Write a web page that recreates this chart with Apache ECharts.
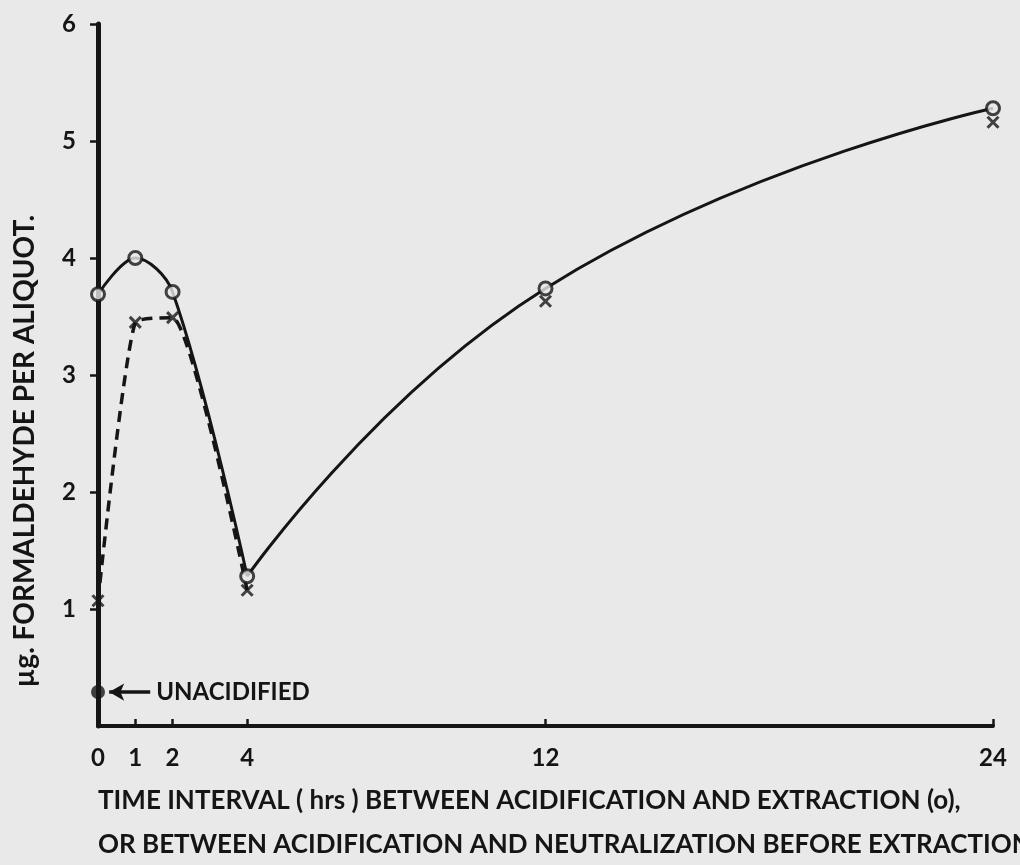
<!DOCTYPE html>
<html>
<head>
<meta charset="utf-8">
<script src="https://cdn.jsdelivr.net/npm/echarts@6/dist/echarts.min.js"></script>
<style>
  html, body { margin: 0; padding: 0; background: #e9e9e9; }
  #chart { width: 1020px; height: 865px; }
</style>
</head>
<body>
<div id="chart"></div>
<script>
// Sampling times (hours) and formaldehyde found per aliquot (µg)
const hours = [0, 1, 2, 4, 12, 24];
const extracted = [3.69, 4.0, 3.71, 1.28, 3.74, 5.28];    // circles: acidified, then extracted
const neutralized = [1.07, 3.45, 3.49, 1.16, 3.63, 5.16];  // crosses: acidified, neutralized, then extracted
const unacidified = [[0, 0.29]];
const xTicks = [0, 1, 2, 4, 12, 24];
const yTicks = [1, 2, 3, 4, 5, 6];

const yTitle = 'µg. FORMALDEHYDE PER ALIQUOT.';
const xTitle = 'TIME INTERVAL ( hrs ) BETWEEN ACIDIFICATION AND EXTRACTION (o),\n' +
               'OR BETWEEN ACIDIFICATION AND NEUTRALIZATION BEFORE EXTRACTION (x).';

const FONT = 'Lato';
const INK = '#151515';
const PAPER = '#e9e9e9';
const pts = (ys, from, to) => hours.slice(from, to).map((h, i) => [h, ys[from + i]]);

const crossPath = 'path://M0,0 L10,10 M10,0 L0,10';

const chart = echarts.init(document.getElementById('chart'), null, { renderer: 'canvas' });
chart.setOption({
  backgroundColor: PAPER,
  animation: false,
  grid: { left: 98, right: 27, top: 24, bottom: 139, containLabel: false },
  title: {
    text: xTitle,
    left: 98, top: 779, padding: 0,
    textStyle: { fontFamily: FONT, fontWeight: 'bold', fontSize: 26, color: INK, lineHeight: 44 }
  },
  graphic: [{
    type: 'text',
    x: 25, y: 451, rotation: Math.PI / 2,
    style: {
      text: yTitle, fill: INK,
      font: 'bold 28px ' + FONT,
      align: 'center', verticalAlign: 'middle'
    }
  }],
  xAxis: {
    type: 'value', min: 0, max: 24,
    splitLine: { show: false },
    axisLine: { lineStyle: { color: INK, width: 4 } },
    axisTick: { inside: true, length: 7, customValues: xTicks, lineStyle: { color: INK, width: 2.5 } },
    axisLabel: { customValues: xTicks, margin: 20, fontFamily: FONT, fontWeight: 'bold', fontSize: 24, color: INK }
  },
  yAxis: {
    type: 'value', min: 0, max: 6,
    splitLine: { show: false },
    axisLine: { show: true, lineStyle: { color: INK, width: 5 } },
    axisTick: { show: true, length: 8, customValues: yTicks, lineStyle: { color: INK, width: 2.5 } },
    axisLabel: { customValues: yTicks, margin: 22, fontFamily: FONT, fontWeight: 'bold', fontSize: 24, color: INK }
  },
  series: [
    { // solid curve, up to the 4 h minimum
      type: 'line', data: pts(extracted, 0, 4), smooth: 0.35, symbol: 'none',
      lineStyle: { color: INK, width: 3 }, z: 3
    },
    { // solid curve, from the minimum onwards
      type: 'line', data: pts(extracted, 3, 6), smooth: 0.5, symbol: 'none',
      lineStyle: { color: INK, width: 3 }, z: 3
    },
    { // dashed curve for the neutralized samples
      type: 'line', data: pts(neutralized, 0, 4), smooth: 0.18, symbol: 'none',
      lineStyle: { color: INK, width: 3.5, type: [11, 7] }, z: 3
    },
    {
      type: 'scatter', data: pts(neutralized, 0, 6), symbol: crossPath, symbolSize: 11,
      itemStyle: { color: 'none', borderColor: INK, borderWidth: 3 }, z: 4
    },
    {
      type: 'scatter', data: pts(extracted, 0, 6), symbol: 'circle', symbolSize: 13,
      itemStyle: { color: PAPER, borderColor: INK, borderWidth: 3 }, z: 5
    },
    {
      type: 'scatter', data: unacidified, symbol: 'circle', symbolSize: 14,
      itemStyle: { color: INK }, z: 6,
      markLine: {
        silent: true, symbol: ['none', 'arrow'], symbolSize: [13, 15],
        lineStyle: { color: INK, width: 3.5, type: 'solid' },
        label: {
          show: true, position: 'start', formatter: 'UNACIDIFIED', distance: 6,
          fontFamily: FONT, fontWeight: 'bold', fontSize: 24, color: INK
        },
        data: [[{ coord: [1.4, unacidified[0][1]] }, { coord: [0.3, unacidified[0][1]] }]]
      }
    }
  ]
});
</script>
</body>
</html>
